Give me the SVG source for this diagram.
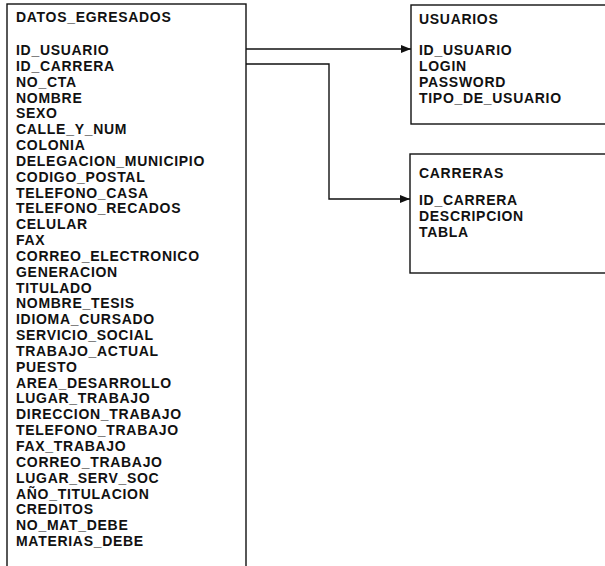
<svg xmlns="http://www.w3.org/2000/svg" width="605" height="566" viewBox="0 0 605 566">
<style>
.box{fill:none;stroke:#111;stroke-width:1.4}
.t{font-family:"Liberation Sans",Arial,sans-serif;font-weight:bold;font-size:14px;letter-spacing:0.7px;fill:#111}
.c{fill:none;stroke:#111;stroke-width:1.4}
</style>
<defs>
<marker id="arr" markerWidth="10" markerHeight="8" refX="10" refY="4" orient="auto" markerUnits="userSpaceOnUse">
<path d="M0,0 L10,4 L0,8 Z" fill="#111"/>
</marker>
</defs>
<rect width="605" height="566" fill="#fff"/>
<g id="datos_egresados">
<rect class="box" x="7" y="4" width="239" height="580"/>
<text class="t" x="16" y="22">DATOS_EGRESADOS</text>
<text class="t" x="16" y="55">ID_USUARIO</text>
<text class="t" x="16" y="70.84">ID_CARRERA</text>
<text class="t" x="16" y="86.68">NO_CTA</text>
<text class="t" x="16" y="102.52">NOMBRE</text>
<text class="t" x="16" y="118.36">SEXO</text>
<text class="t" x="16" y="134.2">CALLE_Y_NUM</text>
<text class="t" x="16" y="150.04">COLONIA</text>
<text class="t" x="16" y="165.88">DELEGACION_MUNICIPIO</text>
<text class="t" x="16" y="181.72">CODIGO_POSTAL</text>
<text class="t" x="16" y="197.56">TELEFONO_CASA</text>
<text class="t" x="16" y="213.4">TELEFONO_RECADOS</text>
<text class="t" x="16" y="229.24">CELULAR</text>
<text class="t" x="16" y="245.08">FAX</text>
<text class="t" x="16" y="260.92">CORREO_ELECTRONICO</text>
<text class="t" x="16" y="276.76">GENERACION</text>
<text class="t" x="16" y="292.6">TITULADO</text>
<text class="t" x="16" y="308.44">NOMBRE_TESIS</text>
<text class="t" x="16" y="324.28">IDIOMA_CURSADO</text>
<text class="t" x="16" y="340.12">SERVICIO_SOCIAL</text>
<text class="t" x="16" y="355.96">TRABAJO_ACTUAL</text>
<text class="t" x="16" y="371.8">PUESTO</text>
<text class="t" x="16" y="387.64">AREA_DESARROLLO</text>
<text class="t" x="16" y="403.48">LUGAR_TRABAJO</text>
<text class="t" x="16" y="419.32">DIRECCION_TRABAJO</text>
<text class="t" x="16" y="435.16">TELEFONO_TRABAJO</text>
<text class="t" x="16" y="451">FAX_TRABAJO</text>
<text class="t" x="16" y="466.84">CORREO_TRABAJO</text>
<text class="t" x="16" y="482.68">LUGAR_SERV_SOC</text>
<text class="t" x="16" y="498.52">AÑO_TITULACION</text>
<text class="t" x="16" y="514.36">CREDITOS</text>
<text class="t" x="16" y="530.2">NO_MAT_DEBE</text>
<text class="t" x="16" y="546.04">MATERIAS_DEBE</text>
</g>
<g id="usuarios">
<rect class="box" x="411" y="5" width="220" height="119"/>
<text class="t" x="419" y="24">USUARIOS</text>
<text class="t" x="419" y="55">ID_USUARIO</text>
<text class="t" x="419" y="70.84">LOGIN</text>
<text class="t" x="419" y="86.68">PASSWORD</text>
<text class="t" x="419" y="102.52">TIPO_DE_USUARIO</text>
</g>
<g id="carreras">
<rect class="box" x="410" y="154" width="220" height="119"/>
<text class="t" x="419" y="178">CARRERAS</text>
<text class="t" x="419" y="205">ID_CARRERA</text>
<text class="t" x="419" y="220.84">DESCRIPCION</text>
<text class="t" x="419" y="236.68">TABLA</text>
</g>
<g id="connectors">
<path class="c" d="M246,49 H411" marker-end="url(#arr)"/>
<path class="c" d="M246,64 H329 V199 H410" marker-end="url(#arr)"/>
</g>
</svg>
